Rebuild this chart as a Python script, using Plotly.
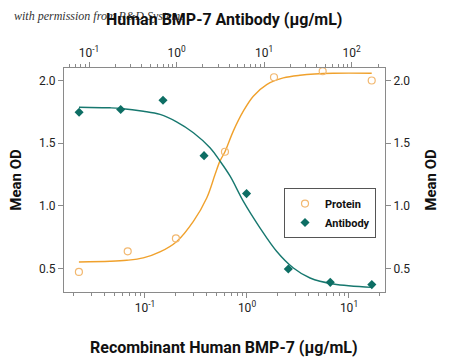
import plotly.graph_objects as go

# ---- data ----
protein_conc = [0.0225, 0.0677, 0.201, 0.608, 1.84, 5.52, 16.7]          # µg/mL, bottom axis
protein_od = [0.471, 0.636, 0.739, 1.431, 2.026, 2.074, 2.000]

antibody_conc = [0.077, 0.23, 0.70, 2.06, 6.3, 18.9, 57.0, 170.0]         # µg/mL, top axis
antibody_od = [1.747, 1.768, 1.843, 1.400, 1.097, 0.495, 0.388, 0.370]

protein_fit_x = [0.0225, 0.0454, 0.0662, 0.0962, 0.140, 0.205, 0.298, 0.403, 0.486,
                 0.543, 0.608, 0.734, 0.920, 1.153, 1.56, 2.27, 3.31, 7.0, 16.7]
protein_fit_y = [0.551, 0.556, 0.564, 0.583, 0.631, 0.715, 0.875, 1.062, 1.249,
                 1.356, 1.431, 1.596, 1.755, 1.875, 1.968, 2.021, 2.042, 2.058, 2.058]

antibody_fit_x = [0.0767, 0.174, 0.230, 0.417, 0.647, 1.00, 1.556, 2.41, 3.14, 4.09,
                  5.80, 9.0, 13.96, 21.6, 33.5, 61.9, 170.0]
antibody_fit_y = [1.787, 1.782, 1.777, 1.755, 1.729, 1.670, 1.583, 1.463, 1.356, 1.236,
                  1.035, 0.822, 0.635, 0.503, 0.423, 0.375, 0.348]

bottom_tickvals = [0.1, 1, 10]
bottom_ticktext = ["10<sup>-1</sup>", "10<sup>0</sup>", "10<sup>1</sup>"]
top_tickvals = [0.1, 1, 10, 100]
top_ticktext = ["10<sup>-1</sup>", "10<sup>0</sup>", "10<sup>1</sup>", "10<sup>2</sup>"]
y_tickvals = [0.5, 1.0, 1.5, 2.0]
y_ticktext = ["0.5", "1.0", "1.5", "2.0"]

# ---- styles ----
TEAL = "#0d6e64"
TEAL_LINE = "#17786f"
ORANGE_LINE = "#f0a12c"
ORANGE_MK = "#f2b870"
AXIS = "#8a8a8a"
FONT = "Roboto, sans-serif"

def minor_vals(lo, hi):
    vals = []
    for e in range(lo, hi + 1):
        for m in range(2, 10):
            vals.append(m * 10 ** e)
    return vals

fig = go.Figure()

fig.add_trace(go.Scatter(
    x=protein_fit_x, y=protein_fit_y, mode="lines",
    line=dict(color=ORANGE_LINE, width=1.4, shape="spline", smoothing=1.0),
    showlegend=False, hoverinfo="skip", xaxis="x", yaxis="y"))
fig.add_trace(go.Scatter(
    x=antibody_fit_x, y=antibody_fit_y, mode="lines",
    line=dict(color=TEAL_LINE, width=1.4, shape="spline", smoothing=1.0),
    showlegend=False, hoverinfo="skip", xaxis="x2", yaxis="y2"))
fig.add_trace(go.Scatter(
    x=protein_conc, y=protein_od, mode="markers", name="Protein",
    marker=dict(symbol="circle-open", size=7, color=ORANGE_MK, line=dict(width=1.2, color=ORANGE_MK)),
    xaxis="x", yaxis="y"))
fig.add_trace(go.Scatter(
    x=antibody_conc, y=antibody_od, mode="markers", name="Antibody",
    marker=dict(symbol="diamond", size=7, color=TEAL),
    xaxis="x2", yaxis="y2"))

axis_common = dict(showline=True, linecolor=AXIS, linewidth=1, showgrid=False, zeroline=False,
                   ticks="outside", ticklen=5, tickcolor=AXIS,
                   tickfont=dict(family=FONT, size=12, color="#222"))

fig.update_layout(
    width=450, height=362,
    margin=dict(l=64, r=65, t=68, b=70),
    paper_bgcolor="white", plot_bgcolor="white",
    font=dict(family=FONT, color="#111"),
    xaxis=dict(type="log", range=[-1.794, 1.353], tickvals=bottom_tickvals, ticktext=bottom_ticktext,
               minor=dict(tickvals=minor_vals(-2, 1), ticks="outside", ticklen=3, tickcolor=AXIS),
               **axis_common),
    xaxis2=dict(type="log", range=[-1.286, 2.381], overlaying="x", side="top", anchor="y",
                tickvals=top_tickvals, ticktext=top_ticktext,
                minor=dict(tickvals=minor_vals(-2, 2), ticks="outside", ticklen=3, tickcolor=AXIS),
                **axis_common),
    yaxis=dict(range=[0.311, 2.10], tickvals=y_tickvals, ticktext=y_ticktext, **axis_common),
    yaxis2=dict(range=[0.311, 2.10], overlaying="y", side="right", anchor="x",
                tickvals=y_tickvals, ticktext=y_ticktext, **axis_common),
    legend=dict(x=0.972, y=0.464, xanchor="right", yanchor="top",
                bordercolor="#555", borderwidth=1, bgcolor="white",
                font=dict(family=FONT, size=11, color="#111", weight="bold"),
                itemwidth=30, tracegroupgap=0),
    showlegend=True,
)

ann_font = dict(family=FONT, size=16, color="#111", weight="bold")
fig.add_annotation(text="<i>with permission from R&D Systems</i>", xref="paper", yref="paper",
                   x=(12 - 64) / 321, y=(292.3 - 16) / 224, xanchor="left", yanchor="middle",
                   showarrow=False,
                   font=dict(family="Liberation Serif, DejaVu Serif, serif", size=12, color="#333"))
fig.add_annotation(text="Human BMP-7 Antibody (µg/mL)", xref="paper", yref="paper",
                   x=(224 - 64) / 321, y=(292.3 - 20) / 224, xanchor="center", yanchor="middle",
                   showarrow=False, font=ann_font)
fig.add_annotation(text="Recombinant Human BMP-7 (µg/mL)", xref="paper", yref="paper",
                   x=(224 - 64) / 321, y=(292.3 - 348) / 224, xanchor="center", yanchor="middle",
                   showarrow=False, font=ann_font)
fig.add_annotation(text="Mean OD", xref="paper", yref="paper", textangle=-90,
                   x=(16 - 64) / 321, y=(292.3 - 180) / 224, xanchor="center", yanchor="middle",
                   showarrow=False, font=dict(family=FONT, size=15, color="#111", weight="bold"))
fig.add_annotation(text="Mean OD", xref="paper", yref="paper", textangle=-90,
                   x=(431 - 64) / 321, y=(292.3 - 180) / 224, xanchor="center", yanchor="middle",
                   showarrow=False, font=dict(family=FONT, size=15, color="#111", weight="bold"))

fig.write_html("out.html", config={"displayModeBar": False},
               post_script="document.body.style.margin='0';")
